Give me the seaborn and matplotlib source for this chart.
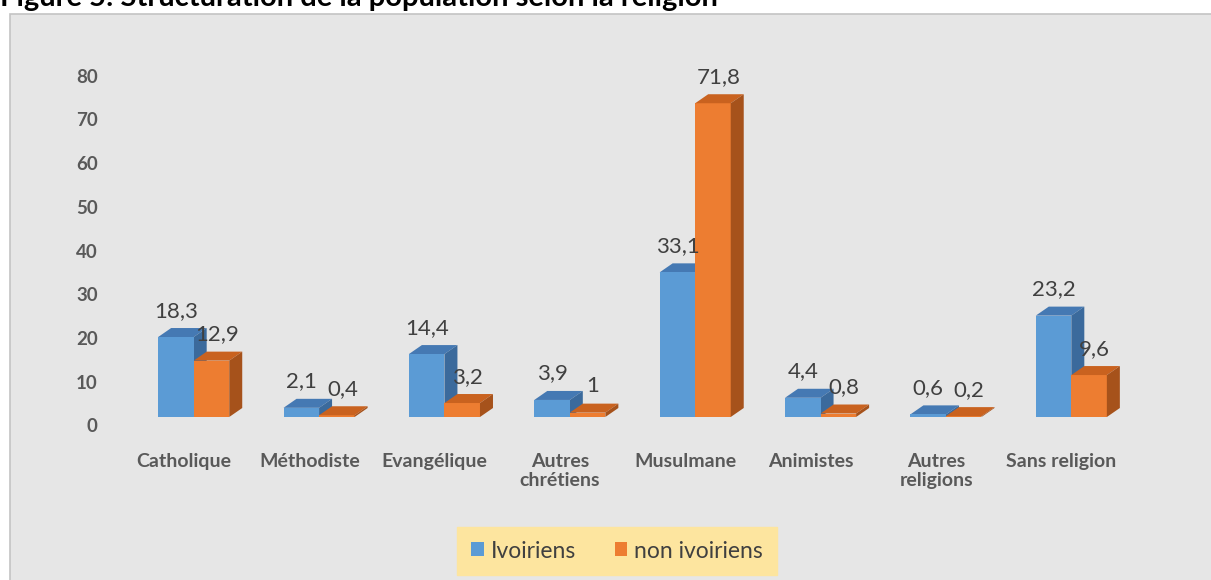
import numpy as np
import pandas as pd
import seaborn as sns
import matplotlib.pyplot as plt
import matplotlib.transforms as mtransforms
from matplotlib.patches import Polygon, Rectangle, Patch

# Figure 5 : structuration de la population selon la religion (barres "3D")

categories = ['Catholique', 'Méthodiste', 'Evangélique', 'Autres\nchrétiens',
              'Musulmane', 'Animistes', 'Autres\nreligions', 'Sans religion']
ivoiriens = [18.3, 2.1, 14.4, 3.9, 33.1, 4.4, 0.6, 23.2]
non_ivoiriens = [12.9, 0.4, 3.2, 1.0, 71.8, 0.8, 0.2, 9.6]
series = ['Ivoiriens', 'non ivoiriens']
yticks = [0, 10, 20, 30, 40, 50, 60, 70, 80]

front = ['#5b9bd5', '#ed7d31']
top = ['#4579b3', '#c9621f']
side = ['#3b6a9c', '#a6521b']

df = pd.DataFrame({
    'cat': categories * 2,
    'val': ivoiriens + non_ivoiriens,
    'grp': [series[0]] * len(categories) + [series[1]] * len(categories),
})

sns.set_style('white')
plt.rcParams['font.family'] = ['Lato', 'DejaVu Sans']

W, H = 1211, 580
fig = plt.figure(figsize=(W / 100, H / 100), dpi=100)
fig.patches.append(Rectangle((10 / W, -0.1), 1.2, 1.1 - 14 / H, transform=fig.transFigure,
                             facecolor='#e6e6e6', edgecolor='#c4c4c4', lw=1.2, zorder=-5))

ax = fig.add_axes([131 / W, (H - 417) / H, 1003 / W, 85 * 4.37 / H])
ax.patch.set_alpha(0)
sns.barplot(data=df, x='cat', y='val', hue='grp', hue_order=series, palette=front,
            width=0.567, legend=False, saturation=1, ax=ax)
ax.set_xlim(-0.5, len(categories) - 0.5)
ax.set_ylim(0, 85)

dx, dy = 13, 9  # profondeur en pixels
ax.figure.canvas.draw()
for k, cont in enumerate(ax.containers):
    vals = ivoiriens if k == 0 else non_ivoiriens
    for bar, v in zip(cont.patches, vals):
        bar.set_zorder(2)
        bar.set_edgecolor('none')
        x0, y0 = bar.get_x(), 0
        x1, y1 = x0 + bar.get_width(), bar.get_height()
        (px0, py0), (px1, py1) = ax.transData.transform([(x0, y0), (x1, y1)])
        top_poly = [(px0, py1), (px1, py1), (px1 + dx, py1 + dy), (px0 + dx, py1 + dy)]
        side_poly = [(px1, py0), (px1 + dx, py0 + dy), (px1 + dx, py1 + dy), (px1, py1)]
        z = 1 if k == 0 else 3
        ax.add_patch(Polygon(top_poly, closed=True, transform=mtransforms.IdentityTransform(),
                             facecolor=top[k], edgecolor='none', zorder=z))
        ax.add_patch(Polygon(side_poly, closed=True, transform=mtransforms.IdentityTransform(),
                             facecolor=side[k], edgecolor='none', zorder=z))
        txt = f'{v:g}'.replace('.', ',')
        shift = 0 if k == 0 else 4
        ax.annotate(txt, ((x0 + x1) / 2, y1), xytext=(shift, 19), textcoords='offset points',
                    ha='center', va='center', fontsize=16, color='#404040', zorder=5)

ax.set_yticks(yticks)
ax.set_xlabel('')
ax.set_ylabel('')
ax.tick_params(axis='both', length=0)
ax.tick_params(axis='y', pad=24, labelsize=13.5, labelcolor='#595959')
ax.tick_params(axis='x', pad=26, labelsize=14, labelcolor='#595959')
for lab in ax.get_yticklabels():
    lab.set_fontweight('bold')
    lab.set_transform(lab.get_transform() + mtransforms.ScaledTranslation(0, -6 / 72, fig.dpi_scale_trans))
for lab in ax.get_xticklabels():
    lab.set_fontweight('bold')
    lab.set_verticalalignment('top')
    lab.set_linespacing(1.1)
    lab.set_transform(lab.get_transform() + mtransforms.ScaledTranslation(-7 / 72, 0, fig.dpi_scale_trans))
sns.despine(ax=ax, left=True, bottom=True)

handles = [Patch(facecolor=c, edgecolor='none') for c in front]
leg = fig.legend(handles, series, loc='center', bbox_to_anchor=(617 / W, 1 - 551 / H),
                 ncol=2, frameon=True, fancybox=False, facecolor='#fde59f', edgecolor='#fde59f',
                 fontsize=16.5, handlelength=0.55, handleheight=0.55, handletextpad=0.3,
                 columnspacing=1.7, borderpad=0.6, borderaxespad=0)
leg.get_frame().set_alpha(1)
for t in leg.get_texts():
    t.set_color('#404040')

fig.text(0, 1 - 6 / H, 'Figure 5: Structuration de la population selon la religion',
         fontsize=21, fontweight='bold', color='black', ha='left', va='baseline')

fig.savefig('out.png', dpi=100)
